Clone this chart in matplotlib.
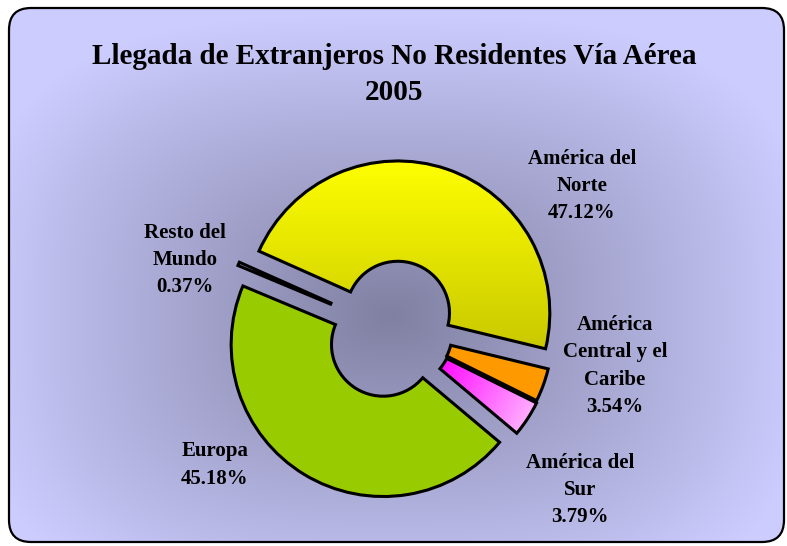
import numpy as np
import matplotlib
matplotlib.use("Agg")
import matplotlib.pyplot as plt
from matplotlib.patches import FancyBboxPatch

W, H = 787, 546

# data
labels = ["América del\nNorte", "América\nCentral y el\nCaribe",
          "América del\nSur", "Europa", "Resto del\nMundo"]
shares = [47.12, 3.54, 3.79, 45.18, 0.37]
colors = ["#FFFF00", "#FF9900", "#FF00FF", "#99CC00", "#CCCCFF"]
title_lines = ["Llegada de Extranjeros No Residentes Vía Aérea", "2005"]

# layout (pixels from the top-left corner)
label_xy = [(582, 186), (615, 366), (580, 490), (215, 465), (185, 260)]
pie_center = (392, 330)
pie_radius = 152
hole_frac = 0.34
explode = [18, 9, 10, 17, 15]   # pixels

plt.rcParams["font.family"] = ["Liberation Serif", "DejaVu Serif"]

fig = plt.figure(figsize=(W / 100, H / 100), dpi=100)
ax = fig.add_axes([0, 0, 1, 1])

# rounded panel with a "from centre" gradient
panel = FancyBboxPatch((9, H - 542), 775, 534,
                       boxstyle="round,pad=0,rounding_size=22",
                       facecolor="none", edgecolor="black", lw=1.6, zorder=5)
ax.add_patch(panel)
yy, xx = np.mgrid[0:H, 0:W]
dx = np.abs(xx - 390) / 420
dy = np.abs(yy - 315) / 300
t = np.clip((dx ** 3 + dy ** 3) ** (1 / 3), 0, 1)
c0 = np.array([128, 128, 162]) / 255
c1 = np.array([204, 204, 255]) / 255
bg = c0 + (c1 - c0) * t[..., None]
im = ax.imshow(bg, extent=(0, W, 0, H), origin="upper", zorder=-2)
im.set_clip_path(panel)

wedges, _ = ax.pie(shares, colors=colors, explode=explode, radius=pie_radius,
                   center=(pie_center[0], H - pie_center[1]),
                   startangle=156, counterclock=False,
                   wedgeprops=dict(width=pie_radius * (1 - hole_frac),
                                   edgecolor="black", linewidth=2.2, zorder=3))


def fill_gradient(wedge, c_start, c_end, angle_deg):
    ext = wedge.get_path().get_extents()
    x0, y0, x1, y1 = ext.x0 - 4, ext.y0 - 4, ext.x1 + 4, ext.y1 + 4
    gy, gx = np.mgrid[y1:y0:100j, x0:x1:100j]
    ux, uy = np.cos(np.radians(angle_deg)), np.sin(np.radians(angle_deg))
    proj = gx * ux + gy * uy
    s = (proj - proj.min()) / (proj.max() - proj.min())
    a = np.array(matplotlib.colors.to_rgb(c_start))
    b = np.array(matplotlib.colors.to_rgb(c_end))
    g = a + (b - a) * s[..., None]
    gi = ax.imshow(g, extent=(x0, x1, y0, y1), origin="upper", zorder=2,
                   interpolation="bilinear")
    gi.set_clip_path(wedge)
    wedge.set_facecolor("none")


fill_gradient(wedges[0], "#FFFF00", "#C8C800", -90)
fill_gradient(wedges[2], "#FF00FF", "#FFCCFF", -31)

for lab, pct, (lx, ly) in zip(labels, shares, label_xy):
    ax.text(lx, H - ly, f"{lab}\n{pct:.2f}%", ha="center", va="center",
            fontsize=15, fontweight="bold", linespacing=1.48, zorder=6)

ax.text(394, H - 56, title_lines[0], ha="center", va="center",
        fontsize=21, fontweight="bold", zorder=6)
ax.text(394, H - 93, title_lines[1], ha="center", va="center",
        fontsize=21, fontweight="bold", zorder=6)

ax.set_xlim(0, W)
ax.set_ylim(0, H)
ax.set_aspect("auto")
ax.axis("off")
fig.savefig("out.png", dpi=100, facecolor="white")
